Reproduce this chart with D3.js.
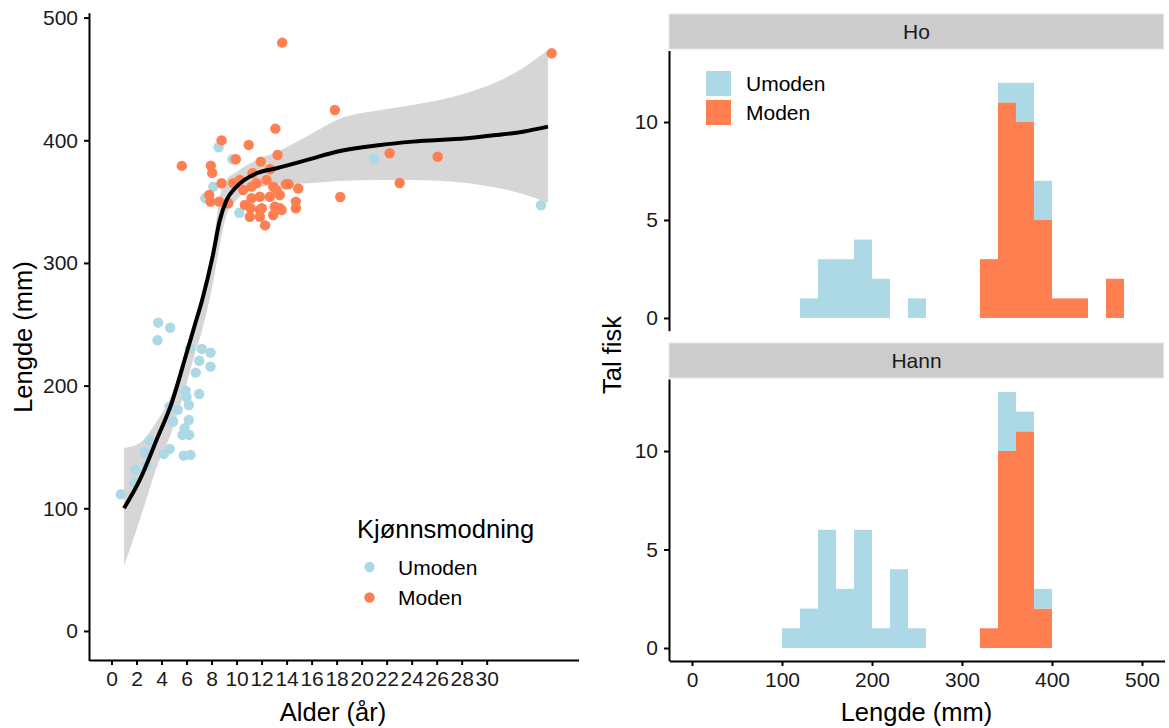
<!DOCTYPE html>
<html>
<head>
<meta charset="utf-8">
<script src="https://cdn.jsdelivr.net/npm/d3@7"></script>
<style>
  body { margin: 0; background: #fff; }
  text { font-family: "Liberation Sans", Arial, sans-serif; }
</style>
</head>
<body>
<svg id="fig" width="1169" height="728"></svg>
<script>
// scatter: [alder, lengde]
var umoden_pts = [
  [3.73, 251.3], [4.69, 247.2], [3.68, 237.0], [6.26, 230.1], [7.22, 229.9], [7.92, 226.9],
  [7.01, 220.3], [7.92, 215.5], [6.74, 210.6], [5.92, 195.9], [7.01, 193.2], [6.0, 190.5],
  [6.18, 184.2], [4.64, 182.8], [5.3, 180.2], [4.93, 170.6], [6.18, 172.0], [5.84, 165.2],
  [5.68, 159.8], [6.21, 159.8], [3.06, 155.1], [2.66, 145.7], [4.66, 148.4], [4.18, 144.3],
  [5.78, 142.9], [6.32, 143.5], [2.8, 134.8], [1.94, 131.2], [1.81, 120.9], [0.74, 111.4],
  [8.56, 394.3], [9.68, 384.5], [8.14, 362.2], [7.5, 352.7], [10.22, 340.9], [20.98, 385.0],
  [34.34, 347.0]
];
var moden_pts = [
  [13.65, 479.6], [35.2, 470.9], [17.86, 424.7], [13.1, 409.5], [8.8, 399.9], [10.97, 396.2],
  [9.94, 384.5], [5.62, 379.1], [7.94, 379.3], [8.05, 373.4], [13.28, 388.0], [11.93, 382.6],
  [22.24, 389.4], [26.08, 386.6], [23.04, 365.2], [18.29, 353.8], [8.8, 365.0], [9.73, 365.0],
  [10.26, 367.7], [11.28, 373.1], [12.68, 376.4], [7.81, 355.4], [7.92, 350.0], [8.61, 350.0],
  [9.33, 348.7], [11.2, 362.2], [11.6, 365.0], [12.4, 367.7], [12.93, 362.2], [13.94, 364.1],
  [14.16, 364.1], [14.93, 360.7], [11.2, 352.7], [11.86, 354.0], [12.66, 354.0], [11.12, 344.6],
  [11.86, 343.2], [13.06, 345.9], [13.6, 343.2], [14.74, 350.0], [14.74, 344.6], [11.06, 337.7],
  [11.86, 337.7], [12.93, 339.1], [12.28, 330.6], [13.46, 355.4], [13.2, 359.5], [12.02, 344.6],
  [13.46, 344.6], [10.66, 347.3], [10.53, 359.5]
];

// loess-kurve med konfidensband
var smooth_alder = [1.0, 2.26, 3.6, 4.8, 6.0, 6.66, 7.25, 8.08, 8.66, 9.2, 10.0, 11.6, 13.2, 16.1, 18.0, 21.5, 24.1, 28.4, 30.8, 32.9, 34.9];
var smooth_fit   = [100.0, 123.1, 155.7, 185.6, 226.4, 249.4, 269.8, 305.1, 334.9, 351.2, 362.2, 373.1, 377.2, 385.3, 390.7, 396.2, 398.9, 401.6, 404.3, 407.0, 411.1];
var smooth_hi    = [149.2, 153.3, 170.6, 192.4, 231.5, 251.9, 273.1, 310.6, 354.0, 367.7, 374.2, 384.0, 390.5, 406.0, 416.6, 424.7, 428.8, 438.6, 447.5, 459.0, 473.6];
var smooth_lo    = [53.0, 90.5, 132.9, 162.2, 201.4, 225.8, 245.4, 282.0, 314.7, 339.1, 351.4, 361.2, 363.6, 365.2, 366.8, 367.7, 367.7, 365.2, 361.2, 356.3, 348.9];

var alder_ticks = [0, 2, 4, 6, 8, 10, 12, 14, 16, 18, 20, 22, 24, 26, 28, 30];
var lengde_ticks = [0, 100, 200, 300, 400, 500];

// histogram, 20 mm brede klasser
var bin_start = [100, 120, 140, 160, 180, 200, 220, 240, 260, 280, 300, 320, 340, 360, 380, 400, 420, 440, 460];
var ho_umoden   = [0, 1, 3, 3, 4, 2, 0, 1, 0, 0, 0, 0, 1, 2, 2, 0, 0, 0, 0];
var ho_moden    = [0, 0, 0, 0, 0, 0, 0, 0, 0, 0, 0, 3, 11, 10, 5, 1, 1, 0, 2];
var hann_umoden = [1, 2, 6, 3, 6, 1, 4, 1, 0, 0, 0, 0, 3, 1, 1, 0, 0, 0, 0];
var hann_moden  = [0, 0, 0, 0, 0, 0, 0, 0, 0, 0, 0, 1, 10, 11, 2, 0, 0, 0, 0];
var hist_xticks = [0, 100, 200, 300, 400, 500];
var hist_yticks = [0, 5, 10];

var col_umoden = "#ADD8E6";
var col_moden = "#FF7F50";
var ink = "#1a1a1a";
var small = "21px";
var big = "25.5px";

var svg = d3.select("#fig");

//**************************************************************
// venstre: lengde mot alder

var x = d3.scaleLinear().domain([-1.8, 37.35]).range([89, 578.6]);
var y = d3.scaleLinear().domain([-24, 504]).range([660.4, 12.7]);

var left = svg.append("g");

var band = smooth_alder.map((a, i) => ({a: a, f: smooth_fit[i], lo: smooth_lo[i], hi: smooth_hi[i]}));

left.append("path")
  .datum(band)
  .attr("fill", "#999999")
  .attr("fill-opacity", 0.4)
  .attr("d", d3.area().curve(d3.curveMonotoneX)
    .x(d => x(d.a)).y0(d => y(d.lo)).y1(d => y(d.hi)));

left.selectAll("circle.um")
  .data(umoden_pts)
  .enter()
  .append("circle")
  .attr("class", "um")
  .attr("cx", d => x(d[0]))
  .attr("cy", d => y(d[1]))
  .attr("r", 5.2)
  .attr("fill", col_umoden);

left.selectAll("circle.mo")
  .data(moden_pts)
  .enter()
  .append("circle")
  .attr("class", "mo")
  .attr("cx", d => x(d[0]))
  .attr("cy", d => y(d[1]))
  .attr("r", 5.2)
  .attr("fill", col_moden);

left.append("path")
  .datum(band)
  .attr("fill", "none")
  .attr("stroke", "black")
  .attr("stroke-width", 4)
  .attr("d", d3.line().curve(d3.curveMonotoneX).x(d => x(d.a)).y(d => y(d.f)));

var xAxis = left.append("g")
  .attr("transform", "translate(0,660)")
  .call(d3.axisBottom(x).tickValues(alder_ticks).tickSize(5).tickPadding(6).tickSizeOuter(0));
var yAxis = left.append("g")
  .attr("transform", "translate(89,0)")
  .call(d3.axisLeft(y).tickValues(lengde_ticks).tickSize(5).tickPadding(6).tickSizeOuter(0));

[xAxis, yAxis].forEach(function(ax) {
  ax.select(".domain").attr("stroke", "black").attr("stroke-width", 2);
  ax.selectAll(".tick line").attr("stroke", "black").attr("stroke-width", 2);
  ax.selectAll(".tick text").attr("fill", ink).style("font-size", small);
});

left.append("text")
  .attr("x", 333).attr("y", 721)
  .attr("text-anchor", "middle")
  .style("font-size", big)
  .text("Alder (år)");

left.append("text")
  .attr("transform", "translate(32,337) rotate(-90)")
  .attr("text-anchor", "middle")
  .style("font-size", big)
  .text("Lengde (mm)");

// legend
left.append("text")
  .attr("x", 357).attr("y", 538)
  .style("font-size", big)
  .text("Kjønnsmodning");

var leg = left.selectAll("g.leg")
  .data([["Umoden", col_umoden], ["Moden", col_moden]])
  .enter()
  .append("g")
  .attr("class", "leg")
  .attr("transform", (d, i) => "translate(0," + (567 + i * 30.5) + ")");
leg.append("circle").attr("cx", 369.5).attr("cy", 0).attr("r", 5.2).attr("fill", d => d[1]);
leg.append("text")
  .attr("x", 398).attr("y", 7.5)
  .style("font-size", small)
  .text(d => d[0]);

//**************************************************************
// høgre: histogram per kjønn

var hx = d3.scaleLinear().domain([-25, 525]).range([669.5, 1164.5]);

var panels = [
  {name: "Ho", um: ho_umoden, mo: ho_moden, top: 14, stripH: 35, y0: 330.7, y1: 50.5},
  {name: "Hann", um: hann_umoden, mo: hann_moden, top: 343, stripH: 35, y0: 660.8, y1: 379.1}
];

panels.forEach(function(p, pi) {
  var g = svg.append("g");
  var hy = d3.scaleLinear().domain([-0.65, 13.65]).range([p.y0, p.y1]);

  g.append("rect")
    .attr("x", 669).attr("y", p.top)
    .attr("width", 1163.5 - 669).attr("height", p.stripH)
    .attr("fill", "#CCCCCC")
    .attr("stroke", "#e6e6e6");
  g.append("text")
    .attr("x", 916.5).attr("y", p.top + p.stripH / 2 + 7)
    .attr("text-anchor", "middle")
    .style("font-size", small)
    .attr("fill", ink)
    .text(p.name);

  var rows = bin_start.map((b, i) => ({b: b, Moden: p.mo[i], Umoden: p.um[i]}));
  var stacked = d3.stack().keys(["Moden", "Umoden"])(rows);

  g.selectAll("g.layer")
    .data(stacked)
    .enter()
    .append("g")
    .attr("fill", d => d.key == "Moden" ? col_moden : col_umoden)
    .selectAll("rect")
    .data(d => d.filter(s => s[1] > s[0]))
    .enter()
    .append("rect")
    .attr("x", d => hx(d.data.b))
    .attr("width", d => hx(d.data.b + 20) - hx(d.data.b))
    .attr("y", d => hy(d[1]))
    .attr("height", d => hy(d[0]) - hy(d[1]));

  var ya = g.append("g")
    .attr("transform", "translate(669,0)")
    .call(d3.axisLeft(hy).tickValues(hist_yticks).tickSize(5).tickPadding(6).tickSizeOuter(0));
  ya.select(".domain").attr("stroke", "black").attr("stroke-width", 2);
  ya.selectAll(".tick line").attr("stroke", "black").attr("stroke-width", 2);
  ya.selectAll(".tick text").attr("fill", ink).style("font-size", small);

  if (pi == 1) {
    var xa = g.append("g")
      .attr("transform", "translate(0,661)")
      .call(d3.axisBottom(hx).tickValues(hist_xticks).tickSize(5).tickPadding(6).tickSizeOuter(0));
    xa.select(".domain").attr("stroke", "black").attr("stroke-width", 2);
    xa.selectAll(".tick line").attr("stroke", "black").attr("stroke-width", 2);
    xa.selectAll(".tick text").attr("fill", ink).style("font-size", small);
  }
});

// legend i Ho-panelet
var hleg = svg.selectAll("g.hleg")
  .data([["Umoden", col_umoden], ["Moden", col_moden]])
  .enter()
  .append("g")
  .attr("class", "hleg")
  .attr("transform", (d, i) => "translate(706," + (71 + i * 29) + ")");
hleg.append("rect").attr("width", 25).attr("height", 25).attr("fill", d => d[1]);
hleg.append("text")
  .attr("x", 40).attr("y", 20)
  .style("font-size", small)
  .text(d => d[0]);

svg.append("text")
  .attr("x", 916.5).attr("y", 721)
  .attr("text-anchor", "middle")
  .style("font-size", big)
  .text("Lengde (mm)");

svg.append("text")
  .attr("transform", "translate(621,355) rotate(-90)")
  .attr("text-anchor", "middle")
  .style("font-size", big)
  .text("Tal fisk");
</script>
</body>
</html>
